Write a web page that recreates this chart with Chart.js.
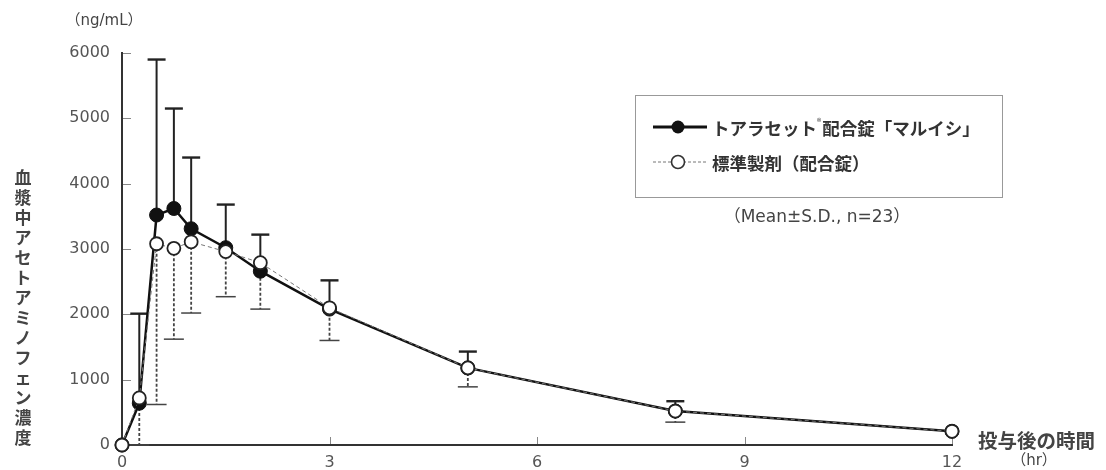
<!DOCTYPE html>
<html lang="ja">
<head>
<meta charset="utf-8">
<title>血漿中アセトアミノフェン濃度</title>
<script src="https://cdn.jsdelivr.net/npm/chart.js@4/dist/chart.umd.min.js"></script>
<style>
  body { margin: 0; background: #fff; }
  canvas { display: block; }
</style>
</head>
<body>
<canvas id="grafico" width="1106" height="470"></canvas>
<script>
// Dados (hr / ng/mL)
const tempos = [0, 0.25, 0.5, 0.75, 1, 1.5, 2, 3, 5, 8, 12]
const mediaTeste = [0, 640, 3520, 3620, 3310, 3020, 2660, 2080, 1180, 520, 210]
const dpTeste = [0, 1370, 2380, 1530, 1090, 660, 560, 440, 250, 150, 0]
const mediaPadrao = [0, 720, 3080, 3010, 3110, 2960, 2790, 2100, 1180, 520, 210]
const dpPadrao = [0, 720, 2460, 1390, 1090, 690, 710, 500, 290, 170, 0]
const ticksX = [0, 3, 6, 9, 12]
const ticksY = [0, 1000, 2000, 3000, 4000, 5000, 6000]

const nomeTeste = 'トアラセット®配合錠「マルイシ」'
const nomePadrao = '標準製剤（配合錠）'
const tituloY = '血漿中アセトアミノフェン濃度'
const tituloX = '投与後の時間'

const fonteJP = '"Noto Sans CJK JP", sans-serif'
const fonteNum = '"DejaVu Sans", "Noto Sans CJK JP", sans-serif'

// barras de erro, marcas dos eixos, títulos e legenda
const extras = {
    id: 'extras',
    beforeDatasetsDraw(chart) {
        const ctx = chart.ctx
        const xs = chart.scales.x
        const ys = chart.scales.y
        ctx.save()

        // marcas para dentro
        ctx.strokeStyle = '#888'
        ctx.lineWidth = 1
        ticksY.slice(1).forEach(v => {
            const y = Math.round(ys.getPixelForValue(v)) + 0.5
            ctx.beginPath(); ctx.moveTo(123, y); ctx.lineTo(131, y); ctx.stroke()
        })
        ticksX.slice(1).forEach(v => {
            const x = Math.round(xs.getPixelForValue(v)) + 0.5
            ctx.beginPath(); ctx.moveTo(x, 444); ctx.lineTo(x, 437); ctx.stroke()
        })

        // padrão: para baixo, tracejado
        tempos.forEach((t, i) => {
            if (!dpPadrao[i]) return
            const x = xs.getPixelForValue(t)
            const y0 = ys.getPixelForValue(mediaPadrao[i])
            const y1 = ys.getPixelForValue(Math.max(0, mediaPadrao[i] - dpPadrao[i]))
            ctx.strokeStyle = '#444'
            ctx.lineWidth = 1.8
            ctx.setLineDash([3, 2])
            ctx.beginPath(); ctx.moveTo(x, y0); ctx.lineTo(x, y1); ctx.stroke()
            ctx.setLineDash([])
            ctx.lineWidth = 1.5
            ctx.beginPath(); ctx.moveTo(x - 10, y1); ctx.lineTo(x + 10, y1); ctx.stroke()
        })

        // teste: para cima, contínuo
        tempos.forEach((t, i) => {
            if (!dpTeste[i]) return
            const x = xs.getPixelForValue(t)
            const y0 = ys.getPixelForValue(mediaTeste[i])
            const y1 = ys.getPixelForValue(mediaTeste[i] + dpTeste[i])
            ctx.strokeStyle = '#222'
            ctx.lineWidth = 2
            ctx.beginPath(); ctx.moveTo(x, y0); ctx.lineTo(x, y1); ctx.stroke()
            ctx.lineWidth = 2.4
            ctx.beginPath(); ctx.moveTo(x - 9, y1); ctx.lineTo(x + 9, y1); ctx.stroke()
        })
        ctx.restore()
    },
    afterDraw(chart) {
        const ctx = chart.ctx
        ctx.save()
        ctx.fillStyle = '#444'
        ctx.textBaseline = 'middle'

        // unidade
        ctx.textAlign = 'center'
        ctx.font = '15px ' + fonteNum
        ctx.fillText('（ng/mL）', 104, 21)

        // título Y empilhado
        ctx.font = 'bold 17px ' + fonteJP
        Array.from(tituloY).forEach((c, i) => {
            ctx.fillText(c, 23, 178 + i * 20)
        })

        // título X
        ctx.textAlign = 'left'
        ctx.font = 'bold 19.5px ' + fonteJP
        ctx.fillText(tituloX, 978, 441)
        ctx.textAlign = 'center'
        ctx.font = '15px ' + fonteNum
        ctx.fillText('（hr）', 1034, 461)

        // caixa da legenda
        ctx.strokeStyle = '#999'
        ctx.lineWidth = 1
        ctx.strokeRect(635.5, 95.5, 367, 102)

        // linha 1
        ctx.strokeStyle = '#111'
        ctx.lineWidth = 3
        ctx.beginPath(); ctx.moveTo(653, 127); ctx.lineTo(707, 127); ctx.stroke()
        ctx.fillStyle = '#111'
        ctx.beginPath(); ctx.arc(678, 127, 6.5, 0, Math.PI * 2); ctx.fill()

        // linha 2
        ctx.strokeStyle = '#777'
        ctx.lineWidth = 1
        ctx.setLineDash([3, 2])
        ctx.beginPath(); ctx.moveTo(653, 162); ctx.lineTo(707, 162); ctx.stroke()
        ctx.setLineDash([])
        ctx.fillStyle = '#fff'
        ctx.strokeStyle = '#333'
        ctx.lineWidth = 1.6
        ctx.beginPath(); ctx.arc(678, 162, 6.5, 0, Math.PI * 2); ctx.fill(); ctx.stroke()

        // textos da legenda
        ctx.fillStyle = '#333'
        ctx.textAlign = 'left'
        ctx.font = 'bold 17.5px ' + fonteJP
        const partes = nomeTeste.split('®')
        ctx.fillText(partes[0], 712, 128)
        let px = 712 + ctx.measureText(partes[0]).width
        ctx.font = '9px ' + fonteJP
        ctx.fillText('®', px, 122)
        px += ctx.measureText('®').width + 1
        ctx.font = 'bold 17.5px ' + fonteJP
        ctx.fillText(partes[1], px, 128)
        ctx.fillText(nomePadrao, 712, 163)

        ctx.textAlign = 'center'
        ctx.font = '17px ' + fonteNum
        ctx.fillStyle = '#444'
        ctx.fillText('（Mean±S.D., n=23）', 817, 218)
        ctx.restore()
    }
}

const ctx = document.getElementById('grafico')
new Chart(ctx, {
    type: 'line',
    data: {
        datasets: [{
            label: nomePadrao,
            data: tempos.map((t, i) => ({ x: t, y: mediaPadrao[i] })),
            borderColor: '#777',
            borderWidth: 1,
            borderDash: [4, 3],
            pointRadius: 6.5,
            pointBackgroundColor: '#fff',
            pointBorderColor: '#222',
            pointBorderWidth: 1.8,
            clip: false,
            order: 0
        }, {
            label: nomeTeste,
            data: tempos.map((t, i) => ({ x: t, y: mediaTeste[i] })),
            borderColor: '#111',
            borderWidth: 2.5,
            pointRadius: 7,
            pointBackgroundColor: '#111',
            pointBorderColor: '#111',
            pointBorderWidth: 1,
            clip: false,
            order: 1
        }]
    },
    options: {
        responsive: false,
        animation: false,
        layout: { padding: { left: 0, top: 53, right: 154, bottom: 0 } },
        plugins: {
            legend: { display: false },
            tooltip: { enabled: false }
        },
        scales: {
            x: {
                type: 'linear',
                min: 0,
                max: 12,
                afterBuildTicks: s => { s.ticks = ticksX.map(v => ({ value: v })) },
                afterFit: s => { s.height = 25 },
                grid: { display: false, drawTicks: false },
                border: { display: true, color: '#333', width: 2 },
                ticks: { padding: 8, color: '#555', font: { family: fonteNum, size: 16 }, callback: v => String(v) }
            },
            y: {
                min: 0,
                max: 6000,
                afterBuildTicks: s => { s.ticks = ticksY.map(v => ({ value: v })) },
                afterFit: s => { s.width = 122 },
                grid: { display: false, drawTicks: false },
                border: { display: true, color: '#333', width: 2 },
                ticks: { padding: 12, color: '#555', font: { family: fonteNum, size: 16 }, callback: v => String(v) }
            }
        }
    },
    plugins: [extras]
});
</script>
</body>
</html>
